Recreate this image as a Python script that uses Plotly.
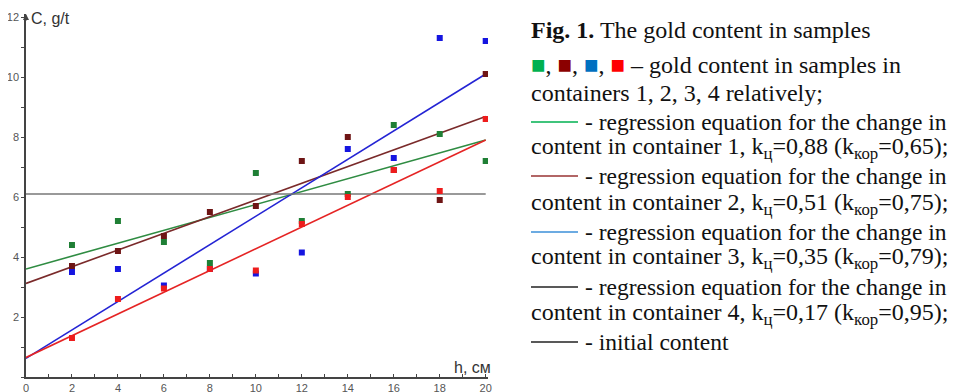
import plotly.graph_objects as go

# ---------------- data ----------------
h = [2, 4, 6, 8, 10, 12, 14, 16, 18, 20]
container1 = [4.4, 5.2, 4.5, 3.8, 6.8, 5.2, 6.1, 8.4, 8.1, 7.2]     # green
container2 = [3.7, 4.2, 4.7, 5.5, 5.7, 7.2, 8.0, 6.9, 5.9, 10.1]    # dark red
container3 = [3.5, 3.6, 3.05, 3.6, 3.45, 4.15, 7.6, 7.3, 11.3, 11.2]  # blue
container4 = [1.3, 2.6, 2.95, 3.6, 3.55, 5.1, 6.0, 6.9, 6.2, 8.6]   # red

reg_h = [0, 20]
reg1 = [3.6, 7.9]
reg2 = [3.12, 8.68]
reg3 = [0.62, 10.1]
reg4 = [0.65, 7.9]
initial_content = 6.1

x_ticks = [0, 2, 4, 6, 8, 10, 12, 14, 16, 18, 20]
y_ticks = [2, 4, 6, 8, 10, 12]

# ---------------- layout constants ----------------
# the page body has an 8px margin, so the figure starts at (8, 8) in the window
OFF = 8
W, H = 950, 384
ML, MR, MT, MB = 18, 470, 6, 15
PW = W - ML - MR
PH = H - MT - MB

mk_colors = ["#1f7f35", "#6e1515", "#1515e0", "#ee1c1c"]
ln_colors = ["#2f8c42", "#7a2a2a", "#2424d4", "#e52424"]

fig = go.Figure()

for reg, col in zip([reg1, reg2, reg3, reg4], ln_colors):
    fig.add_trace(go.Scatter(x=reg_h, y=reg, mode="lines",
                             line=dict(color=col, width=1.6), hoverinfo="skip"))

fig.add_trace(go.Scatter(x=[0, 20], y=[initial_content, initial_content], mode="lines",
                         line=dict(color="#777777", width=1.6), hoverinfo="skip"))

for ys, col in zip([container1, container2, container3, container4], mk_colors):
    fig.add_trace(go.Scatter(x=h, y=ys, mode="markers",
                             marker=dict(symbol="square", size=6, color=col,
                                         line=dict(width=0))))

axis_common = dict(showgrid=False, zeroline=False, showline=True, automargin=False,
                   linecolor="#444444", linewidth=1.5,
                   ticklen=3, tickwidth=1.2, tickcolor="#444444",
                   tickfont=dict(family="Liberation Sans, Arial", size=11, color="#555555"),
                   fixedrange=True)

fig.update_layout(
    width=W, height=H, autosize=False,
    margin=dict(l=ML, r=MR, t=MT, b=MB, pad=0),
    paper_bgcolor="white", plot_bgcolor="white",
    showlegend=False,
    xaxis=dict(range=[0, 20.1], tickvals=x_ticks, ticktext=[str(v) for v in x_ticks],
               ticks="inside",
               minor=dict(dtick=1, ticks="inside", ticklen=3, tickcolor="#444444", tickwidth=1.2),
               **axis_common),
    yaxis=dict(range=[0, 12.1], tickvals=y_ticks, ticktext=[str(v) for v in y_ticks],
               ticks="outside",
               minor=dict(dtick=1, ticks="outside", ticklen=3, tickcolor="#444444", tickwidth=1.2),
               **axis_common),
)


def px_x(px):
    return (px - OFF - ML) / PW


def px_y(py):
    return 1 - (py - OFF - MT) / PH


def ann(px, py, text, size=24, family="Liberation Serif, Times New Roman, serif",
        color="#111111", xanchor="left"):
    fig.add_annotation(x=px_x(px), y=px_y(py), xref="paper", yref="paper",
                       text=text, showarrow=False, xanchor=xanchor, yanchor="middle",
                       borderpad=0, font=dict(family=family, size=size, color=color))


# arrowhead at the top of the y axis
fig.add_annotation(x=0, y=12.1, xref="x", yref="y", text="", showarrow=True,
                   ax=0, ay=8, arrowhead=2, arrowsize=0.8, arrowwidth=1.5,
                   arrowcolor="#444444")

# axis titles
ann(30, 18, "C, g/t", size=16, family="Liberation Sans, Arial", color="#333333")
ann(492, 367, "h, см", size=16, family="Liberation Sans, Arial", color="#333333", xanchor="right")

# caption text
TX = 530
sq = '<span style="color:{c};font-size:24px">■</span>'
ann(TX, 30, "<b>Fig. 1.</b> The gold content in samples")
ann(TX, 65, ", ".join(sq.format(c=c) for c in ["#00b050", "#8b0000", "#0070c0", "#ff0000"])
    + " – gold content in samples in")
ann(TX, 93, "containers 1, 2, 3, 4 relatively;")

legend_lines = [
    (122, "#00b050", "- regression equation for the change in"),
    (176, "#993333", "- regression equation for the change in"),
    (232, "#3b8fd9", "- regression equation for the change in"),
    (287, "#222222", "- regression equation for the change in"),
    (342, "#222222", "- initial content"),
]
for py, col, txt in legend_lines:
    fig.add_shape(type="line", xref="paper", yref="paper",
                  x0=px_x(531), x1=px_x(578), y0=px_y(py), y1=px_y(py),
                  line=dict(color=col, width=1.3))
    ann(584, py, txt, size=23.5)

k_lines = [
    (148, "1", "0,88", "0,65"),
    (204, "2", "0,51", "0,75"),
    (258, "3", "0,35", "0,79"),
    (314, "4", "0,17", "0,95"),
]
for py, n, kc, kk in k_lines:
    ann(TX, py, f"content in container {n}, k<sub>ц</sub>={kc} (k<sub>кор</sub>={kk});")

fig.write_html("out.html")
